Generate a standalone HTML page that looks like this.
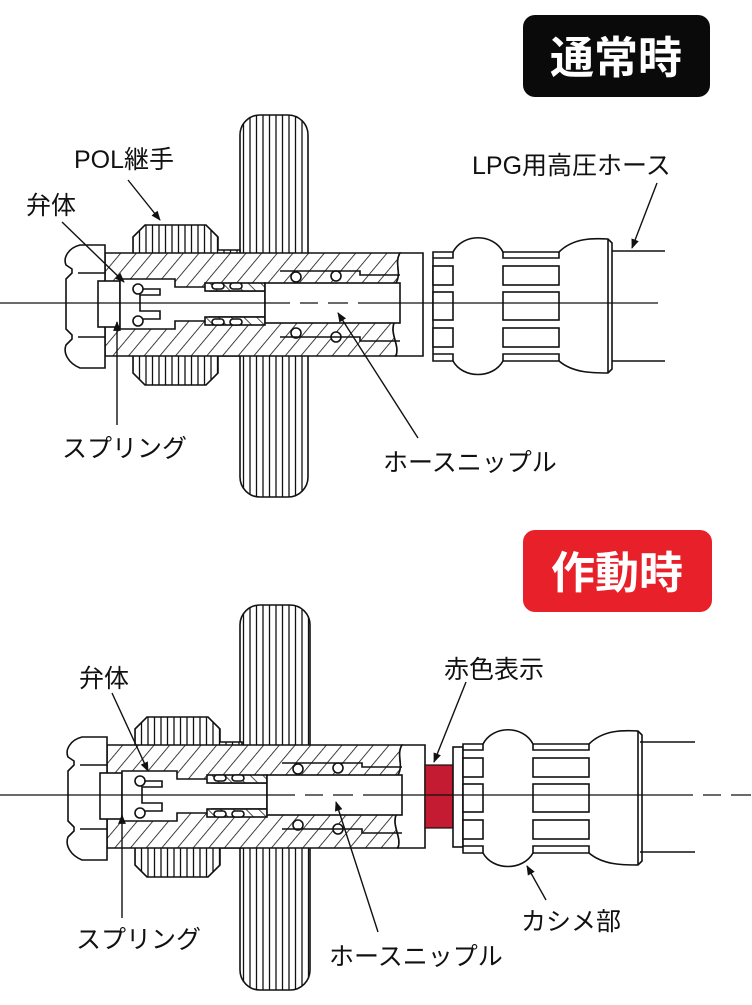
<!DOCTYPE html>
<html><head><meta charset="utf-8"><style>
html,body{margin:0;padding:0;background:#fff}
svg{display:block}
text{font-family:"Liberation Sans","Noto Sans CJK JP",sans-serif;fill:#111}
</style></head><body>
<svg width="752" height="1005" viewBox="0 0 752 1005" xmlns="http://www.w3.org/2000/svg">
<defs>
<pattern id="vh" width="6.5" height="10" patternUnits="userSpaceOnUse"><rect width="6.5" height="10" fill="#fff"/><line x1="3" y1="0" x2="3" y2="10" stroke="#111" stroke-width="1.3"/></pattern>
<pattern id="dh" width="12" height="12" patternUnits="userSpaceOnUse" patternTransform="rotate(40)"><rect width="12" height="12" fill="#fff"/><line x1="0" y1="0" x2="0" y2="12" stroke="#111" stroke-width="1.6"/></pattern>
<pattern id="dh2" width="9" height="9" patternUnits="userSpaceOnUse" patternTransform="rotate(-45)"><rect width="9" height="9" fill="#fff"/><line x1="0" y1="0" x2="0" y2="9" stroke="#111" stroke-width="1.5"/></pattern>
<marker id="ar" viewBox="0 0 10 10" refX="9" refY="5" markerWidth="7" markerHeight="7" orient="auto"><path d="M0,1 L10,5 L0,9 z" fill="#111"/></marker>
<g id="conn" stroke="#111" stroke-width="1.6">
  <path d="M133,-66 L145,-78 L206,-78 L218,-66 L218,-53 L240,-53 L240,53 L218,53 L218,70 L206,82 L145,82 L133,70 Z" fill="url(#vh)"/>
  <path d="M105,-50 L400,-50 C394,-40 402,-30 396,-20 C390,-5 400,5 394,20 C390,32 400,42 396,53 L105,53 Z" fill="url(#dh)"/>
  <path d="M400,-50 L423,-50 L423,53 L396,53 C400,42 390,32 394,20 C400,5 390,-5 396,-20 C402,-30 394,-40 400,-50 Z" fill="#fff"/>
  <path d="M105,-58 L80,-58 C68,-55 63,-45 66,-38 L72,-34 L72,-30 L66,-24 L66,26 L72,32 L72,36 L66,42 C63,50 68,60 80,65 L105,65 Z" fill="#fff"/>
  <path d="M78,-30 L105,-30 M78,34 L105,34" fill="none"/>
  <rect x="98" y="-22" width="22" height="46" fill="#fff"/>
  <path d="M120,-24 L175,-24 L175,-16 L210,-16 L210,-12 L265,-12 L265,14 L210,14 L210,18 L175,18 L175,26 L120,26 Z" fill="#fff"/>
  <rect x="205" y="-20" width="60" height="8" fill="url(#dh2)"/>
  <rect x="205" y="14" width="60" height="8" fill="url(#dh2)"/>
  <rect x="265" y="-20" width="135" height="40" fill="#fff"/>
  <path d="M140,-14 L160,-14 L160,-8 L140,-8 L140,8 L160,8 L160,16 L140,16" fill="none"/>
  <circle cx="138" cy="-14" r="5" fill="#fff"/><circle cx="138" cy="18" r="5" fill="#fff"/>
  <circle cx="296" cy="-26" r="5" fill="#fff"/><circle cx="336" cy="-27" r="5" fill="#fff"/>
  <circle cx="296" cy="30" r="5" fill="#fff"/><circle cx="336" cy="34" r="5" fill="#fff"/>
  <rect x="212" y="-20" width="12" height="6" rx="3" fill="#fff"/><rect x="230" y="-20" width="12" height="6" rx="3" fill="#fff"/>
  <rect x="212" y="16" width="12" height="6" rx="3" fill="#fff"/><rect x="230" y="16" width="12" height="6" rx="3" fill="#fff"/>
  <path d="M280,-32 L360,-32 L360,-28 L400,-28 M280,34 L360,34 L360,38 L400,38" fill="none"/>
</g>
<g id="crimp" stroke="#111" stroke-width="1.6" fill="#fff">
  <path d="M0,-51 L20,-51 C30,-70 60,-70 70,-51 L126,-51 C140,-65 160,-65 175,-64 L179,-60 L179,66 L175,70 C160,70 140,70 126,58 L70,58 C60,76 30,76 20,58 L0,58 Z"/>
  <path d="M20,-51 L20,-45 L0,-45 M70,-51 L70,-45 L126,-45 L126,-51 M20,58 L20,51 L0,51 M70,58 L70,51 L126,51 L126,58 M175,-64 L175,70" fill="none"/>
  <rect x="0" y="-37" width="20" height="19"/><rect x="0" y="-11" width="20" height="28"/><rect x="0" y="25" width="20" height="19"/>
  <rect x="70" y="-37" width="56" height="19"/><rect x="70" y="-11" width="56" height="28"/><rect x="70" y="25" width="56" height="19"/>
</g>
</defs>

<rect x="523" y="15" width="187" height="82" rx="12" fill="#0a0a0a"/>
<text x="616" y="73" font-size="44" font-weight="bold" text-anchor="middle" style="fill:#fff">通常時</text>

<rect x="240" y="115" width="68" height="382" rx="20" fill="url(#vh)" stroke="#111" stroke-width="1.6"/>
<g transform="translate(0,303)"><use href="#conn"/></g>
<g transform="translate(433,303)"><use href="#crimp"/></g>
<path d="M612,251 L665,251 M612,361 L665,361" stroke="#111" stroke-width="1.6"/>
<line x1="0" y1="303" x2="700" y2="303" stroke="#111" stroke-width="1.3" stroke-dasharray="290,10,18,10,20,10,300"/>

<text x="74" y="168" font-size="25">POL継手</text>
<text x="26" y="214" font-size="25">弁体</text>
<text x="472" y="174" font-size="25">LPG用高圧ホース</text>
<text x="62" y="457" font-size="25">スプリング</text>
<text x="383" y="471" font-size="25">ホースニップル</text>
<g stroke="#111" stroke-width="1.4" fill="none" marker-end="url(#ar)">
<line x1="128" y1="180" x2="160" y2="220"/>
<line x1="62" y1="222" x2="124" y2="282"/>
<line x1="657" y1="183" x2="632" y2="248"/>
<line x1="117" y1="425" x2="117" y2="322"/>
<line x1="418" y1="438" x2="338" y2="313"/>
</g>

<rect x="523" y="530" width="189" height="82" rx="12" fill="#e8202a"/>
<text x="617" y="588" font-size="44" font-weight="bold" text-anchor="middle" style="fill:#fff">作動時</text>

<rect x="240" y="605" width="70" height="385" rx="20" fill="url(#vh)" stroke="#111" stroke-width="1.6"/>
<g transform="translate(2,795)"><use href="#conn"/></g>
<rect x="425" y="765" width="28" height="63" fill="#c41b33" stroke="#111" stroke-width="1.2"/>
<rect x="453" y="747" width="10" height="100" fill="#fff" stroke="#111" stroke-width="1.6"/>
<g transform="translate(463,795)"><use href="#crimp"/></g>
<path d="M640,742 L695,742 M640,852 L695,852" stroke="#111" stroke-width="1.6"/>
<line x1="0" y1="795" x2="752" y2="795" stroke="#111" stroke-width="1.3" stroke-dasharray="295,10,18,10,20,10,330,10,18,10,20,10,60"/>

<text x="79" y="687" font-size="25">弁体</text>
<text x="444" y="678" font-size="25">赤色表示</text>
<text x="76" y="948" font-size="25">スプリング</text>
<text x="329" y="965" font-size="25">ホースニップル</text>
<text x="521" y="930" font-size="25">カシメ部</text>
<g stroke="#111" stroke-width="1.4" fill="none" marker-end="url(#ar)">
<line x1="112" y1="693" x2="148" y2="771"/>
<line x1="466" y1="682" x2="434" y2="762"/>
<line x1="122" y1="918" x2="122" y2="815"/>
<line x1="378" y1="932" x2="336" y2="802"/>
<line x1="546" y1="900" x2="527" y2="866"/>
</g>
</svg>
</body></html>
